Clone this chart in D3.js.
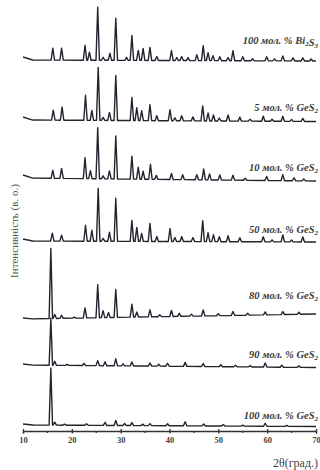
<!DOCTYPE html>
<html>
<head>
<meta charset="utf-8">
<script src="https://cdn.jsdelivr.net/npm/d3@7/dist/d3.min.js"></script>
<style>
  body { margin: 0; background: #fff; }
  svg { display: block; }
</style>
</head>
<body>
<div id="chart"></div>
<script>
// composition of each pattern, top to bottom
const percents = [100, 5, 10, 50, 80, 90, 100];
const compounds = ['Bi2S3', 'GeS2', 'GeS2', 'GeS2', 'GeS2', 'GeS2', 'GeS2'];

// stacking offset of each pattern (a.u.) and baseline drift [at 10°, at 70°]
const offsets = [371, 311, 253, 190, 112, 66, 6];
const baseStart = [3, 3, 3, 2, 1, 1, 1];
const baseEnd = [-1, -1.5, -3, -1, 5, -2.5, -1.5];

// peaks [2θ, height a.u.]
const peaksBi2S3 = [[16.1,12],[17.9,12],[22.7,15],[23.6,8],[25.3,53],[26.4,3],[27.8,7],[29.0,42],[31.2,3],[32.3,25],[33.6,10],[34.6,12],[36.0,13],[37.4,4],[40.4,10],[41.5,3],[42.5,4],[43.8,3],[45.6,6],[46.9,15],[47.9,8],[48.9,5],[50.3,4],[52.0,3],[53.0,10],[55.0,4],[57.0,2],[59.9,4],[61.5,2],[63.2,5],[65.3,3],[67.3,3],[69.0,2]];
const peaksGe5 = [[16.2,10],[18.0,13],[22.8,25],[24.1,10],[25.4,53],[26.4,3],[27.7,8],[29.0,45],[32.3,23],[33.3,13],[34.3,10],[36.0,16],[37.4,5],[40.1,11],[41.1,3],[42.5,5],[44.8,4],[46.8,15],[47.9,8],[49.0,6],[50.2,3],[52.0,6],[54.4,4],[56.5,2],[59.2,5],[61.0,2],[63.2,5],[65.0,2],[67.3,3]];
const peaksGe10 = [[16.1,8],[17.9,10],[22.7,21],[23.8,8],[25.3,51],[26.4,3],[27.7,8],[29.0,43],[32.3,23],[33.6,12],[34.6,8],[36.1,15],[37.3,4],[40.4,6],[42.7,5],[45.6,5],[47.0,11],[48.2,6],[50.3,5],[53.0,5],[55.5,2],[59.9,4],[63.2,6],[65.5,3],[67.5,2]];
const peaksGe50 = [[16.0,8],[17.9,6],[22.8,16],[24.1,11],[25.4,53],[26.4,3],[27.7,9],[29.0,43],[32.3,21],[33.3,14],[34.3,8],[36.0,18],[37.4,5],[40.1,13],[41.1,4],[42.5,5],[44.8,4],[46.8,21],[47.9,9],[49.0,7],[50.2,5],[52.0,6],[54.4,4],[59.2,5],[61.0,2],[63.2,7],[65.0,2],[67.3,5]];
const peaksGe80 = [[15.7,70],[16.5,4],[17.9,3],[20.5,1],[22.7,10],[25.3,33],[26.4,7],[27.5,5],[29.0,28],[32.3,13],[33.3,5],[36.0,7],[38.0,2],[40.4,6],[42.0,3],[44.5,2],[46.9,6],[50.0,2],[53.0,4],[56.0,2],[59.6,3],[63.2,3],[66.5,2]];
const peaksGe90 = [[15.7,47],[16.5,4],[19.0,1],[22.5,2],[25.3,5],[26.8,4],[29.0,7],[30.5,2],[32.3,4],[36.0,3],[37.8,2],[39.6,3],[43.2,4],[46.9,3],[50.5,2],[53.5,1.5],[56.5,1.5],[59.6,4],[63.0,2],[66.5,1.5]];
const peaksGe100 = [[15.7,57],[16.5,3],[18.5,1],[23.0,1.5],[26.8,3],[29.0,5],[30.8,2],[32.3,3],[34.5,1.5],[36.0,2],[39.6,2],[43.2,4],[47.0,2],[51.0,1.5],[55.0,1],[59.6,3],[64.0,1]];
const peakSets = [peaksBi2S3, peaksGe5, peaksGe10, peaksGe50, peaksGe80, peaksGe90, peaksGe100];

const xTicks = [10, 20, 30, 40, 50, 60, 70];
const xMinorTicks = [15, 25, 35, 45, 55, 65];

// layout
const width = 320, height = 470;
const labelBaselines = [44, 111, 171, 233, 299, 358, 419];
const halfWidth = 0.35;

const svg = d3.select('#chart').append('svg')
  .attr('width', width)
  .attr('height', height);

const x = d3.scaleLinear().domain([10, 70]).range([23, 316]);
const y = d3.scaleLinear().domain([0, 430]).range([431, 1]);

const line = d3.line()
  .x(d => x(d[0]))
  .y(d => y(d[1]));

peakSets.forEach((peaks, i) => {
  const drift = d3.scaleLinear().domain([10, 70]).range([0, baseEnd[i]]);
  const level = t => offsets[i] + drift(t) + (t < 12 ? baseStart[i] * (12 - t) / 2 : 0);
  const pts = [[10, level(10)], [12, level(12)]];
  peaks.forEach(([p, h]) => {
    pts.push([p - halfWidth, level(p - halfWidth)]);
    pts.push([p, level(p) + h]);
    pts.push([p + halfWidth, level(p + halfWidth)]);
  });
  pts.push([70, level(70)]);

  svg.append('path')
    .datum(pts)
    .attr('fill', 'none')
    .attr('stroke', '#26222f')
    .attr('stroke-width', 1.4)
    .attr('stroke-linejoin', 'round')
    .attr('d', line);

  // label with subscripts
  const label = svg.append('text')
    .attr('x', 318)
    .attr('y', labelBaselines[i])
    .attr('text-anchor', 'end')
    .attr('font-family', '"Liberation Serif", "DejaVu Serif", serif')
    .attr('font-style', 'italic')
    .attr('font-weight', 'bold')
    .attr('font-size', 10.5)
    .attr('fill', '#3a3a3a');
  label.append('tspan').text(percents[i] + ' мол. % ');
  compounds[i].match(/[A-Za-z]+|\d+/g).forEach(part => {
    if (/\d/.test(part)) {
      label.append('tspan').attr('font-size', 7).attr('dy', 2).text(part);
      label.append('tspan').attr('dy', -2).text('');
    } else {
      label.append('tspan').text(part);
    }
  });
});

// x axis
const axis = svg.append('g')
  .attr('transform', `translate(0,${y(0)})`)
  .call(d3.axisBottom(x).tickValues(xTicks).tickSize(2.5).tickPadding(3).tickFormat(d3.format('d')));
axis.select('.domain').attr('stroke', '#333').attr('stroke-width', 1.3);
axis.selectAll('.tick line').attr('y1', -2).attr('stroke', '#333').attr('stroke-width', 1.3);
axis.selectAll('.tick text')
  .attr('font-family', '"Liberation Serif", serif')
  .attr('font-weight', 'bold')
  .attr('font-size', 8.5)
  .attr('fill', '#444');

axis.selectAll('.minor')
  .data(xMinorTicks)
  .join('line')
  .attr('class', 'minor')
  .attr('x1', d => x(d)).attr('x2', d => x(d))
  .attr('y1', 0).attr('y2', 2)
  .attr('stroke', '#333')
  .attr('stroke-width', 1.3);

svg.append('text')
  .attr('x', 318)
  .attr('y', 467)
  .attr('text-anchor', 'end')
  .attr('font-family', '"Liberation Serif", serif')
  .attr('font-size', 12)
  .attr('fill', '#444')
  .text('2θ(град.)');

svg.append('text')
  .attr('transform', 'translate(18,231) rotate(-90)')
  .attr('text-anchor', 'middle')
  .attr('font-family', '"Liberation Serif", serif')
  .attr('font-size', 11)
  .attr('fill', '#555')
  .text('Інтенсивність (в. о.)');
</script>
</body>
</html>
